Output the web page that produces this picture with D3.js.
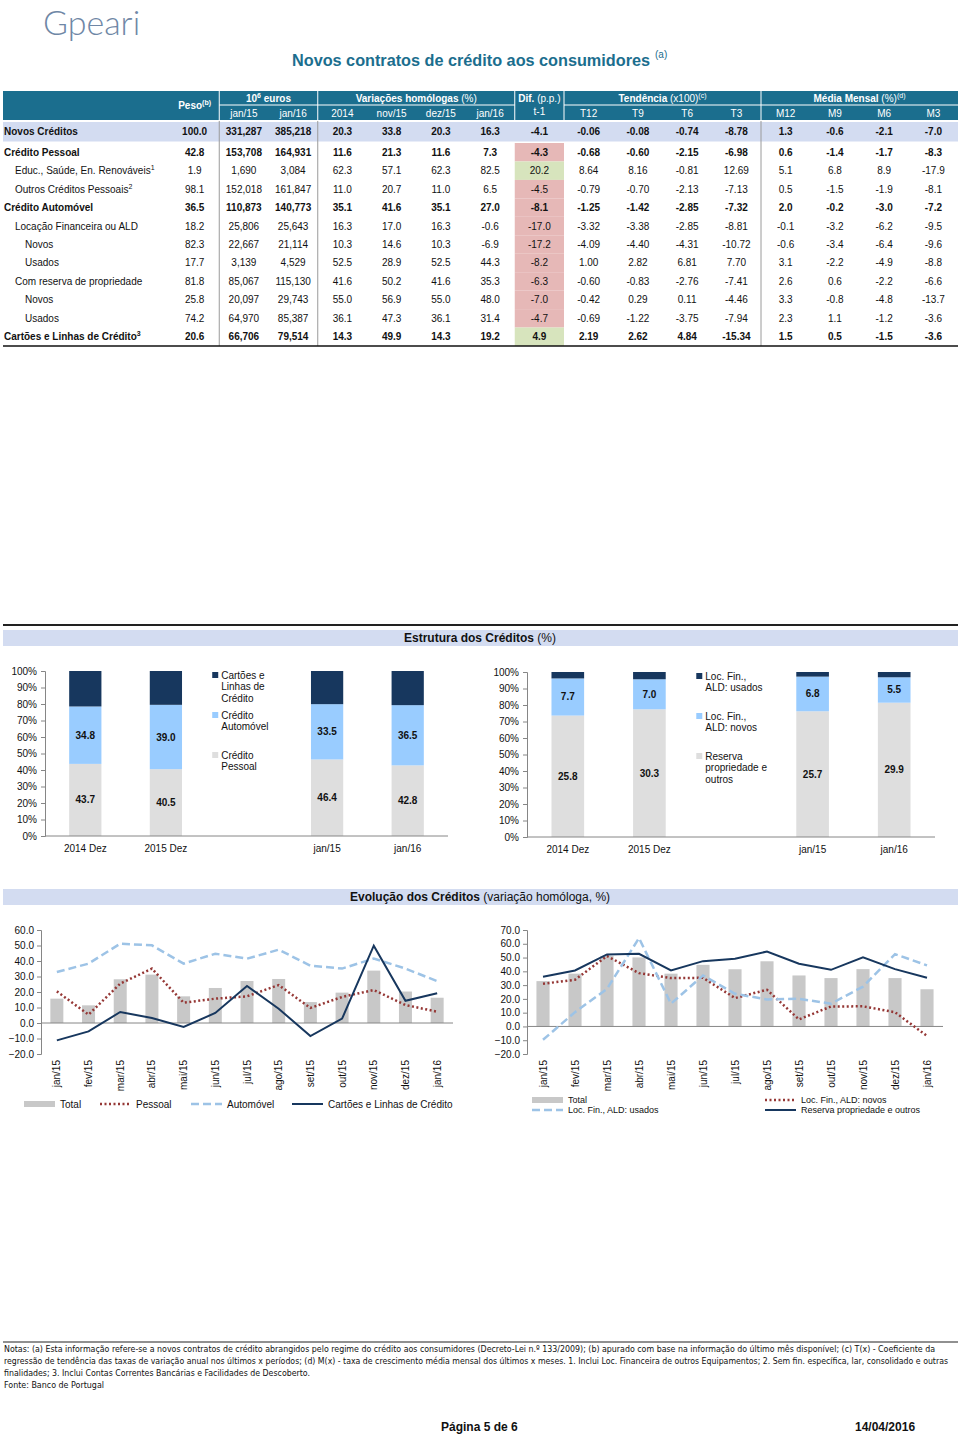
<!DOCTYPE html>
<html>
<head>
<meta charset="utf-8">
<script src="https://cdnjs.cloudflare.com/ajax/libs/d3/7.8.5/d3.min.js"></script>
<style>
body { margin: 0; background: #fff; }
svg text { font-family: "Liberation Sans", Arial, sans-serif; }
</style>
</head>
<body>
<div id="page"></div>
<script>
// ---- table data ----
var rowLabels = ["Novos Créditos", "Crédito Pessoal", "Educ., Saúde, En. Renováveis", "Outros Créditos Pessoais",
    "Crédito Automóvel", "Locação Financeira ou ALD", "Novos", "Usados", "Com reserva de propriedade",
    "Novos", "Usados", "Cartões e Linhas de Crédito"];
var rowSup = ["", "", "1", "2", "", "", "", "", "", "", "", "3"];
var rowLevel = [0, 0, 1, 1, 0, 1, 2, 2, 1, 2, 2, 0];
var rowBold = [1, 1, 0, 0, 1, 0, 0, 0, 0, 0, 0, 1];
var peso = ["100.0", "42.8", "1.9", "98.1", "36.5", "18.2", "82.3", "17.7", "81.8", "25.8", "74.2", "20.6"];
var eurJan15 = ["331,287", "153,708", "1,690", "152,018", "110,873", "25,806", "22,667", "3,139", "85,067", "20,097", "64,970", "66,706"];
var eurJan16 = ["385,218", "164,931", "3,084", "161,847", "140,773", "25,643", "21,114", "4,529", "115,130", "29,743", "85,387", "79,514"];
var vh2014 = ["20.3", "11.6", "62.3", "11.0", "35.1", "16.3", "10.3", "52.5", "41.6", "55.0", "36.1", "14.3"];
var vhNov15 = ["33.8", "21.3", "57.1", "20.7", "41.6", "17.0", "14.6", "28.9", "50.2", "56.9", "47.3", "49.9"];
var vhDez15 = ["20.3", "11.6", "62.3", "11.0", "35.1", "16.3", "10.3", "52.5", "41.6", "55.0", "36.1", "14.3"];
var vhJan16 = ["16.3", "7.3", "82.5", "6.5", "27.0", "-0.6", "-6.9", "44.3", "35.3", "48.0", "31.4", "19.2"];
var dif = ["-4.1", "-4.3", "20.2", "-4.5", "-8.1", "-17.0", "-17.2", "-8.2", "-6.3", "-7.0", "-4.7", "4.9"];
var t12 = ["-0.06", "-0.68", "8.64", "-0.79", "-1.25", "-3.32", "-4.09", "1.00", "-0.60", "-0.42", "-0.69", "2.19"];
var t9 = ["-0.08", "-0.60", "8.16", "-0.70", "-1.42", "-3.38", "-4.40", "2.82", "-0.83", "0.29", "-1.22", "2.62"];
var t6 = ["-0.74", "-2.15", "-0.81", "-2.13", "-2.85", "-2.85", "-4.31", "6.81", "-2.76", "0.11", "-3.75", "4.84"];
var t3 = ["-8.78", "-6.98", "12.69", "-7.13", "-7.32", "-8.81", "-10.72", "7.70", "-7.41", "-4.46", "-7.94", "-15.34"];
var m12 = ["1.3", "0.6", "5.1", "0.5", "2.0", "-0.1", "-0.6", "3.1", "2.6", "3.3", "2.3", "1.5"];
var m9 = ["-0.6", "-1.4", "6.8", "-1.5", "-0.2", "-3.2", "-3.4", "-2.2", "0.6", "-0.8", "1.1", "0.5"];
var m6 = ["-2.1", "-1.7", "8.9", "-1.9", "-3.0", "-6.2", "-6.4", "-4.9", "-2.2", "-4.8", "-1.2", "-1.5"];
var m3 = ["-7.0", "-8.3", "-17.9", "-8.1", "-7.2", "-9.5", "-9.6", "-8.8", "-6.6", "-13.7", "-3.6", "-3.6"];
var subHeaders = ["", "jan/15", "jan/16", "2014", "nov/15", "dez/15", "jan/16", "t-1", "T12", "T9", "T6", "T3", "M12", "M9", "M6", "M3"];

// ---- estrutura (stacked) ----
var structCats = ["2014 Dez", "2015 Dez", "jan/15", "jan/16"];
var structPessoal = [43.7, 40.5, 46.4, 42.8];
var structAuto = [34.8, 39.0, 33.5, 36.5];
var structCartoes = [21.5, 20.5, 20.1, 20.7];
var structReserva = [73.6, 77.4, 76.2, 81.4];
var structAldNovos = [22.5, 18.2, 21.0, 15.4];
var structAldUsados = [3.9, 4.4, 2.8, 3.2];
var labelReserva = ["25.8", "30.3", "25.7", "29.9"];
var labelAldNovos = ["7.7", "7.0", "6.8", "5.5"];

// ---- evolução (variação homóloga) ----
var months = ["jan/15", "fev/15", "mar/15", "abr/15", "mai/15", "jun/15", "jul/15", "ago/15", "set/15", "out/15", "nov/15", "dez/15", "jan/16"];
var evTotal = [15.7, 11.4, 28.2, 31.2, 17.2, 22.6, 27.1, 28.4, 13.5, 19.6, 33.8, 20.3, 16.3];
var evPessoal = [20.4, 5.4, 25.4, 35.1, 13.1, 15.7, 17.2, 24.5, 9.7, 16.8, 21.3, 11.6, 7.3];
var evAuto = [32.9, 38.3, 51.2, 50.1, 38.3, 44.7, 41.5, 47.3, 37.0, 35.1, 41.6, 35.1, 27.0];
var evCartoes = [-11.2, -5.4, 7.1, 3.2, -2.6, 6.5, 23.9, 9.2, -8.4, 2.8, 49.9, 14.3, 19.2];
var evAldNovos = [31.0, 33.9, 51.1, 38.7, 35.1, 35.3, 20.6, 26.6, 5.1, 14.5, 14.6, 10.3, -6.9];
var evAldUsados = [-9.7, 10.4, 27.3, 64.1, 16.5, 37.0, 23.7, 19.6, 20.1, 16.5, 28.9, 52.5, 44.3];
var evReserva = [36.1, 40.6, 52.3, 52.7, 40.6, 47.4, 49.1, 54.4, 45.5, 41.1, 50.2, 41.6, 35.3];

var teal = "#1b6e8e", lav = "#d3dcf1", navy = "#17375e", lblue = "#99ccff", lgray = "#dedede",
    barGray = "#c8c8c8", red = "#953735", dblue = "#9dc3e6", axisCol = "#868686";

var svg = d3.select("#page").append("svg").attr("width", 960).attr("height", 1435);

// logo + title
svg.append("text").attr("x", 43).attr("y", 35)
    .style("font-family", "Lato").style("font-weight", 300).style("font-size", "34px")
    .attr("fill", "#6f87a6").text("Gpeari");
svg.append("text").attr("x", 292).attr("y", 66).attr("fill", teal)
    .attr("textLength", 358).attr("lengthAdjust", "spacingAndGlyphs")
    .style("font-size", "16px").style("font-weight", "bold")
    .text("Novos contratos de crédito aos consumidores");
svg.append("text").attr("x", 655).attr("y", 58).attr("fill", teal).style("font-size", "10px").text("(a)");

// ---------------- table ----------------
var tableCols = [peso, eurJan15, eurJan16, vh2014, vhNov15, vhDez15, vhJan16, dif, t12, t9, t6, t3, m12, m9, m6, m3];
var tx = d3.scaleBand().domain(d3.range(16)).range([170, 958]);
var tr = d3.scaleBand().domain(d3.range(1, 12)).range([143, 346]);
function rowTop(i) { return i === 0 ? 122 : tr(i); }
function rowH(i) { return i === 0 ? 19.5 : tr.bandwidth(); }
function rowMid(i) { return rowTop(i) + rowH(i) / 2; }
function colMid(c) { return tx(c) + tx.bandwidth() / 2; }

var tab = svg.append("g");
// header
tab.append("rect").attr("x", 3).attr("y", 91).attr("width", 955).attr("height", 29).attr("fill", teal);
var hdrGroups = [
    {from: 1, to: 2, bold: "10", sup: "6", rest: " euros"},
    {from: 3, to: 6, bold: "Variações homólogas ", rest: "(%)"},
    {from: 7, to: 7, bold: "Dif. ", rest: "(p.p.)"},
    {from: 8, to: 11, bold: "Tendência ", rest: "(x100)", sup2: "(c)"},
    {from: 12, to: 15, bold: "Média Mensal ", rest: "(%)", sup2: "(d)"}
];
hdrGroups.forEach(function (h) {
    var cx = (tx(h.from) + tx(h.to) + tx.bandwidth()) / 2;
    var t = tab.append("text").attr("x", cx).attr("y", 102).attr("text-anchor", "middle")
        .attr("fill", "#fff").style("font-size", "10px");
    t.append("tspan").style("font-weight", "bold").text(h.bold);
    if (h.sup) {
        t.append("tspan").attr("dy", -4).style("font-size", "7px").style("font-weight", "bold").text(h.sup);
        t.append("tspan").attr("dy", 4).style("font-weight", "bold").text(h.rest);
    } else {
        t.append("tspan").text(h.rest);
    }
    if (h.sup2) t.append("tspan").attr("dy", -4).style("font-size", "7px").text(h.sup2);
});
var pt = tab.append("text").attr("x", colMid(0)).attr("y", 109).attr("text-anchor", "middle")
    .attr("fill", "#fff").style("font-size", "10px").style("font-weight", "bold");
pt.append("tspan").text("Peso");
pt.append("tspan").attr("dy", -4).style("font-size", "7px").text("(b)");
subHeaders.forEach(function (s, c) {
    if (!s) return;
    tab.append("text").attr("x", colMid(c)).attr("y", c === 7 ? 115 : 117).attr("text-anchor", "middle")
        .attr("fill", "#fff").style("font-size", "10px").text(s);
});
// header separators
tab.append("line").attr("x1", tx(1)).attr("x2", tx(7)).attr("y1", 105).attr("y2", 105).attr("stroke", "#fff");
tab.append("line").attr("x1", tx(8)).attr("x2", 958).attr("y1", 105).attr("y2", 105).attr("stroke", "#fff");
[1, 3, 7, 8, 12].forEach(function (c) {
    tab.append("line").attr("x1", tx(c)).attr("x2", tx(c)).attr("y1", 91).attr("y2", 120).attr("stroke", "#fff");
});

// first row background
tab.append("rect").attr("x", 3).attr("y", rowTop(0)).attr("width", 955).attr("height", rowH(0)).attr("fill", lav);
// dif cell colours
dif.forEach(function (v, i) {
    if (i === 0) return;
    tab.append("rect").attr("x", tx(7)).attr("y", rowTop(i)).attr("width", tx.bandwidth())
        .attr("height", rowH(i)).attr("fill", +v >= 0 ? "#d7e4bd" : "#e6b8b7");
});
// body vertical separators
[1, 3, 12].forEach(function (c) {
    tab.append("line").attr("x1", tx(c)).attr("x2", tx(c)).attr("y1", 121).attr("y2", 346)
        .attr("stroke", "#9a9a9a").attr("stroke-width", 1);
});
// labels
rowLabels.forEach(function (lab, i) {
    var t = tab.append("text").attr("x", [4, 15, 25][rowLevel[i]]).attr("y", rowMid(i)).attr("dy", "0.35em")
        .style("font-size", "10px").style("font-weight", rowBold[i] ? "bold" : "normal").attr("fill", "#111").text(lab);
    if (rowSup[i]) t.append("tspan").attr("dy", -4).style("font-size", "7px").text(rowSup[i]);
});
tableCols.forEach(function (col, c) {
    col.forEach(function (v, i) {
        tab.append("text").attr("x", colMid(c)).attr("y", rowMid(i)).attr("dy", "0.35em")
            .attr("text-anchor", "middle").attr("fill", "#111")
            .style("font-size", "10px").style("font-weight", rowBold[i] ? "bold" : "normal").text(v);
    });
});
tab.append("line").attr("x1", 3).attr("x2", 958).attr("y1", 346).attr("y2", 346).attr("stroke", "#111").attr("stroke-width", 1.5);

// ---------------- section bars ----------------
svg.append("line").attr("x1", 3).attr("x2", 958).attr("y1", 625).attr("y2", 625).attr("stroke", "#222").attr("stroke-width", 2);
function sectionBar(y, bold, rest) {
    svg.append("rect").attr("x", 3).attr("y", y).attr("width", 955).attr("height", 16).attr("fill", lav);
    var t = svg.append("text").attr("x", 480).attr("y", y + 12).attr("text-anchor", "middle").style("font-size", "12px").attr("fill", "#111");
    t.append("tspan").style("font-weight", "bold").text(bold);
    t.append("tspan").text(rest);
}
sectionBar(630, "Estrutura dos Créditos", " (%)");
sectionBar(889, "Evolução dos Créditos", " (variação homóloga, %)");

// ---------------- stacked charts ----------------
function stackChart(cfg) {
    var g = svg.append("g");
    var domain = cfg.cats.slice(0, 2).concat(["_legend"], cfg.cats.slice(2));
    var x = d3.scaleBand().domain(domain).range([cfg.left, cfg.right]).paddingInner(0.6).paddingOuter(0.3);
    var y = d3.scaleLinear().domain([0, 100]).range([cfg.bottom, cfg.top]);
    var rows = cfg.cats.map(function (c, i) {
        var o = {cat: c};
        cfg.keys.forEach(function (k, j) { o[k] = cfg.values[j][i]; });
        return o;
    });
    var series = d3.stack().keys(cfg.keys)(rows);
    g.selectAll("g.s").data(series).enter().append("g").attr("fill", function (d, j) { return cfg.colors[j]; })
        .selectAll("rect").data(function (d) { return d; }).enter().append("rect")
        .attr("x", function (d) { return x(d.data.cat); })
        .attr("width", x.bandwidth())
        .attr("y", function (d) { return y(d[1]); })
        .attr("height", function (d) { return y(d[0]) - y(d[1]); });
    // segment labels
    cfg.labels.forEach(function (lab) {
        var s = series[lab.layer];
        s.forEach(function (d, i) {
            g.append("text").attr("x", x(d.data.cat) + x.bandwidth() / 2).attr("y", y((d[0] + d[1]) / 2))
                .attr("dy", "0.35em").attr("text-anchor", "middle").style("font-size", "10px")
                .style("font-weight", "bold").attr("fill", "#111").text(lab.text[i]);
        });
    });
    var ya = g.append("g").attr("transform", "translate(" + cfg.left + ",0)")
        .call(d3.axisLeft(y).tickValues(d3.range(0, 101, 10)).tickFormat(function (d) { return d + "%"; }).tickSize(4).tickPadding(4));
    ya.selectAll("text").style("font-size", "10px").attr("fill", "#111");
    ya.selectAll("line,path").attr("stroke", axisCol);
    g.append("line").attr("x1", cfg.left).attr("x2", cfg.right).attr("y1", cfg.bottom).attr("y2", cfg.bottom).attr("stroke", axisCol);
    cfg.cats.forEach(function (c) {
        g.append("text").attr("x", x(c) + x.bandwidth() / 2).attr("y", cfg.bottom + 16).attr("text-anchor", "middle")
            .style("font-size", "10px").attr("fill", "#111").text(c);
    });
    // legend in the blank slot
    var lx = x("_legend") - x.step() * 0.25 + 2;
    cfg.legend.forEach(function (item, k) {
        var ly = y(100) + 4 + k * 40;
        g.append("rect").attr("x", lx).attr("y", ly - 3).attr("width", 6).attr("height", 6).attr("fill", item.color);
        item.lines.forEach(function (ln, n) {
            g.append("text").attr("x", lx + 9).attr("y", ly + n * 11.5).attr("dy", "0.35em")
                .style("font-size", "10px").attr("fill", "#111").text(ln);
        });
    });
}

stackChart({
    left: 45, right: 448, top: 671, bottom: 836, cats: structCats,
    keys: ["pessoal", "auto", "cartoes"], values: [structPessoal, structAuto, structCartoes],
    colors: [lgray, lblue, navy],
    labels: [{layer: 0, text: structPessoal.map(function (v) { return v.toFixed(1); })},
             {layer: 1, text: structAuto.map(function (v) { return v.toFixed(1); })}],
    legend: [{color: navy, lines: ["Cartões e", "Linhas de", "Crédito"]},
             {color: lblue, lines: ["Crédito", "Automóvel"]},
             {color: lgray, lines: ["Crédito", "Pessoal"]}]
});
stackChart({
    left: 527, right: 935, top: 672, bottom: 837, cats: structCats,
    keys: ["reserva", "novos", "usados"], values: [structReserva, structAldNovos, structAldUsados],
    colors: [lgray, lblue, navy],
    labels: [{layer: 0, text: labelReserva}, {layer: 1, text: labelAldNovos}],
    legend: [{color: navy, lines: ["Loc. Fin.,", "ALD: usados"]},
             {color: lblue, lines: ["Loc. Fin.,", "ALD: novos"]},
             {color: lgray, lines: ["Reserva", "propriedade e", "outros"]}]
});

// ---------------- line charts ----------------
var lineStyles = {
    dotted: {stroke: red, width: 2.5, dash: "2,2.5"},
    dashed: {stroke: dblue, width: 2.5, dash: "8,4"},
    solid: {stroke: navy, width: 2, dash: null}
};
function lineChart(cfg) {
    var g = svg.append("g");
    var x = d3.scaleBand().domain(months).range([cfg.left, cfg.right]).paddingInner(0.59).paddingOuter(0.295);
    var y = d3.scaleLinear().domain(cfg.domain).range([1054, 930]);
    var cx = function (i) { return x(months[i]) + x.bandwidth() / 2; };
    g.selectAll("rect.bar").data(cfg.bars).enter().append("rect")
        .attr("x", function (d, i) { return x(months[i]); })
        .attr("width", x.bandwidth())
        .attr("y", function (d) { return y(Math.max(0, d)); })
        .attr("height", function (d) { return Math.abs(y(d) - y(0)); })
        .attr("fill", barGray);
    var ya = g.append("g").attr("transform", "translate(" + cfg.left + ",0)")
        .call(d3.axisLeft(y).tickValues(d3.range(cfg.domain[0], cfg.domain[1] + 1, 10)).tickFormat(d3.format(".1f")).tickSize(4).tickPadding(3));
    ya.selectAll("text").style("font-size", "10px").attr("fill", "#111");
    ya.selectAll("line,path").attr("stroke", axisCol);
    g.append("line").attr("x1", cfg.left).attr("x2", cfg.right).attr("y1", y(0)).attr("y2", y(0)).attr("stroke", axisCol);
    cfg.lines.forEach(function (ln) {
        var st = lineStyles[ln.style];
        g.append("path").datum(ln.values)
            .attr("d", d3.line().x(function (d, i) { return cx(i); }).y(function (d) { return y(d); }))
            .attr("fill", "none").attr("stroke", st.stroke).attr("stroke-width", st.width)
            .attr("stroke-dasharray", st.dash);
    });
    months.forEach(function (m, i) {
        g.append("text").attr("transform", "translate(" + (cx(i) + 3.5) + ",1060) rotate(-90)")
            .attr("text-anchor", "end").style("font-size", "10px").attr("fill", "#111").text(m);
    });
    cfg.legend.forEach(function (it) {
        if (it.style === "bar") {
            g.append("rect").attr("x", it.x).attr("y", it.y - 3).attr("width", 31).attr("height", 6).attr("fill", barGray);
        } else {
            var st = lineStyles[it.style];
            g.append("line").attr("x1", it.x).attr("x2", it.x + 31).attr("y1", it.y).attr("y2", it.y)
                .attr("stroke", st.stroke).attr("stroke-width", st.width).attr("stroke-dasharray", st.dash);
        }
        g.append("text").attr("x", it.x + 36).attr("y", it.y).attr("dy", "0.35em")
            .style("font-size", it.size + "px").attr("fill", "#111").text(it.text);
    });
}

lineChart({
    left: 41, right: 453, domain: [-20, 60], bars: evTotal,
    lines: [{values: evPessoal, style: "dotted"}, {values: evAuto, style: "dashed"}, {values: evCartoes, style: "solid"}],
    legend: [{x: 24, y: 1104, style: "bar", text: "Total", size: 10},
             {x: 100, y: 1104, style: "dotted", text: "Pessoal", size: 10},
             {x: 191, y: 1104, style: "dashed", text: "Automóvel", size: 10},
             {x: 292, y: 1104, style: "solid", text: "Cartões e Linhas de Crédito", size: 10}]
});
lineChart({
    left: 527, right: 943, domain: [-20, 70], bars: evAuto,
    lines: [{values: evAldNovos, style: "dotted"}, {values: evAldUsados, style: "dashed"}, {values: evReserva, style: "solid"}],
    legend: [{x: 532, y: 1100, style: "bar", text: "Total", size: 9},
             {x: 765, y: 1100, style: "dotted", text: "Loc. Fin., ALD: novos", size: 9},
             {x: 532, y: 1110, style: "dashed", text: "Loc. Fin., ALD: usados", size: 9},
             {x: 765, y: 1110, style: "solid", text: "Reserva propriedade e outros", size: 9}]
});

// ---------------- notes & footer ----------------
svg.append("line").attr("x1", 3).attr("x2", 958).attr("y1", 1342).attr("y2", 1342).attr("stroke", "#222").attr("stroke-width", 1.2);
var notes = [
    {t: "Notas: (a) Esta informação refere-se a novos contratos de crédito abrangidos pelo regime do crédito aos consumidores (Decreto-Lei n.º 133/2009); (b) apurado com base na informação do último mês disponível; (c) T(x) - Coeficiente da", w: 931},
    {t: "regressão de tendência das taxas de variação anual nos últimos x períodos; (d) M(x) - taxa de crescimento média mensal dos últimos x meses. 1.  Inclui Loc. Financeira de outros Equipamentos; 2. Sem fin. específica, lar, consolidado e outras", w: 944},
    {t: "finalidades; 3. Inclui Contas Correntes Bancárias e Facilidades de Descoberto.", w: 306},
    {t: "Fonte: Banco de Portugal", w: 100}
];
notes.forEach(function (n, i) {
    svg.append("text").attr("x", 4).attr("y", 1352 + i * 12)
        .attr("textLength", n.w).attr("lengthAdjust", "spacingAndGlyphs")
        .style("font-family", "'Liberation Sans Narrow', 'DejaVu Sans Condensed', sans-serif")
        .style("font-size", "8.5px").attr("fill", "#111").text(n.t);
});
svg.append("text").attr("x", 441).attr("y", 1431).style("font-size", "12px").style("font-weight", "bold").attr("fill", "#111").text("Página 5 de 6");
svg.append("text").attr("x", 855).attr("y", 1431).style("font-size", "12px").style("font-weight", "bold").attr("fill", "#111").text("14/04/2016");
</script>
</body>
</html>
